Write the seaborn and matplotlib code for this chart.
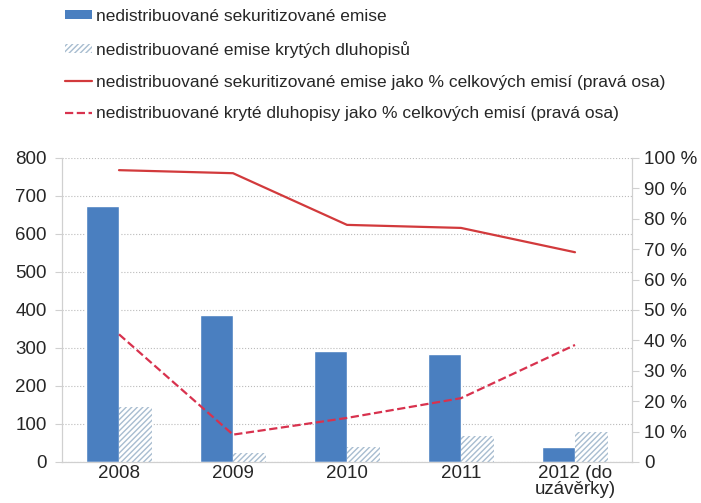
import matplotlib.pyplot as plt
import matplotlib.ticker as mticker
from matplotlib.lines import Line2D
from matplotlib.patches import Patch
import pandas as pd
import seaborn as sns

years = ['2008', '2009', '2010', '2011', '2012 (do\nuzávěrky)']
securitised = [675, 388, 293, 283, 40]
covered = [145, 24, 40, 68, 79]
securitised_pct = [96, 95, 78, 77, 69]
covered_pct = [42, 9, 14.5, 21, 38.5]

lbl_bar1 = 'nedistribuované sekuritizované emise'
lbl_bar2 = 'nedistribuované emise krytých dluhopisů'
lbl_line1 = 'nedistribuované sekuritizované emise jako % celkových emisí (pravá osa)'
lbl_line2 = 'nedistribuované kryté dluhopisy jako % celkových emisí (pravá osa)'

bars = pd.DataFrame({
    'year': years * 2,
    'value': securitised + covered,
    'series': [lbl_bar1] * 5 + [lbl_bar2] * 5,
})
lines = pd.DataFrame({
    'year': years * 2,
    'pct': securitised_pct + covered_pct,
    'series': [lbl_line1] * 5 + [lbl_line2] * 5,
})

sns.set_style('white')
plt.rcParams['font.family'] = ['Liberation Sans', 'DejaVu Sans']
plt.rcParams['hatch.linewidth'] = 1.0

blue = '#4a7fc0'
hatch_col = '#a8bdd0'
red = '#d23a3c'
red2 = '#d8324e'
grey = '#d0d0d0'
tick_fs = 13.5

fig = plt.figure(figsize=(7.01, 5.03), dpi=100)
ax = fig.add_axes([62 / 701, 1 - 462 / 503, 570 / 701, 304 / 503])

sns.barplot(data=bars, x='year', y='value', hue='series',
            palette=[blue, 'white'], width=0.58, gap=0, ax=ax,
            legend=False, saturation=1)
for p in ax.containers[1]:
    p.set_hatch('//////')
    p.set_edgecolor(hatch_col)
    p.set_linewidth(0)

ax.set_ylim(0, 800)
ax.set_yticks(range(0, 801, 100))
ax.set_xlim(-0.5, 4.5)
ax.set_xlabel('')
ax.set_ylabel('')
ax.yaxis.grid(True, linestyle=':', color='#bbbbbb', linewidth=0.8)
ax.set_axisbelow(True)
ax.set_xticks([0.5, 1.5, 2.5, 3.5], minor=True)
ax.tick_params(axis='x', which='major', length=0, labelsize=tick_fs, pad=2)
ax.tick_params(axis='x', which='minor', length=5, color=grey, width=0.8)
ax.tick_params(axis='y', length=5, color=grey, width=0.8, labelsize=tick_fs, pad=6)
for s in ['left', 'right', 'bottom']:
    ax.spines[s].set_color(grey)
    ax.spines[s].set_linewidth(0.8)
ax.spines['top'].set_visible(False)

ax2 = ax.twinx()
sns.pointplot(data=lines, x='year', y='pct', hue='series',
              palette=[red, red2], markers=['', ''], linestyles=['-', '--'],
              errorbar=None, ax=ax2, legend=False)
for ln in ax2.lines:
    ln.set_linewidth(1.6)
ax2.set_ylim(0, 100)
ax2.set_xlim(-0.5, 4.5)
ax2.set_yticks(range(0, 101, 10))
ax2.yaxis.set_major_formatter(mticker.FuncFormatter(lambda v, p: '0' if v == 0 else f'{int(v)} %'))
ax2.set_ylabel('')
ax2.set_xlabel('')
ax2.tick_params(axis='y', length=5, color=grey, width=0.8, labelsize=tick_fs, pad=4)
for s in ['left', 'right', 'bottom']:
    ax2.spines[s].set_color(grey)
    ax2.spines[s].set_linewidth(0.8)
ax2.spines['top'].set_visible(False)
ax.set_xticks(range(5))
ax.set_xticklabels(years, linespacing=0.95)

handles = [
    Patch(facecolor=blue, edgecolor='none'),
    Patch(facecolor='white', edgecolor=hatch_col, hatch='//////', linewidth=0),
    Line2D([], [], color=red, linewidth=1.6),
    Line2D([], [], color=red2, linewidth=1.6, linestyle='--'),
]
fig.legend(handles, [lbl_bar1, lbl_bar2, lbl_line1, lbl_line2],
           loc='upper left', bbox_to_anchor=(65 / 701, 1 - 9 / 503), frameon=False,
           fontsize=12.5, handlelength=1.55, handleheight=0.45, handletextpad=0.25,
           labelspacing=0.97, borderpad=0, borderaxespad=0)

fig.savefig('out.png', dpi=100)
